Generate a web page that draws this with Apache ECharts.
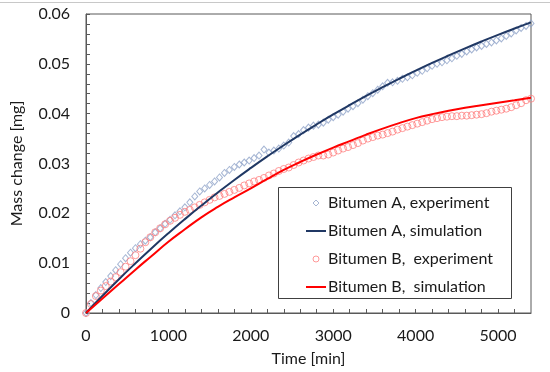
<!DOCTYPE html>
<html><head><meta charset="utf-8">
<script src="https://cdn.jsdelivr.net/npm/echarts@6/dist/echarts.min.js"></script>
<style>html,body{margin:0;padding:0;background:#fff}#c{width:550px;height:372px}</style>
</head><body><div id="c"></div>
<script>
var expTime = [0,60,120,180,240,300,360,420,480,540,600,660,720,780,840,900,960,1020,1080,1140,1200,1260,1320,1380,1440,1500,1560,1620,1680,1740,1800,1860,1920,1980,2040,2100,2160,2220,2280,2340,2400,2460,2520,2580,2640,2700,2760,2820,2880,2940,3000,3060,3120,3180,3240,3300,3360,3420,3480,3540,3600,3660,3720,3780,3840,3900,3960,4020,4080,4140,4200,4260,4320,4380,4440,4500,4560,4620,4680,4740,4800,4860,4920,4980,5040,5100,5160,5220,5280,5340,5400];
var expA = [0,0.0020,0.0036,0.0050,0.0062,0.0074,0.0086,0.0098,0.0110,0.0121,0.0130,0.0138,0.0145,0.0152,0.0162,0.0170,0.0179,0.0187,0.0196,0.0204,0.0212,0.0222,0.0234,0.0244,0.0250,0.0257,0.0264,0.0272,0.0281,0.0287,0.0293,0.0298,0.0302,0.0306,0.0311,0.0316,0.0328,0.0322,0.0326,0.0330,0.0336,0.0342,0.0355,0.0359,0.0367,0.0372,0.0376,0.0378,0.0382,0.0388,0.0393,0.0398,0.0404,0.0410,0.0415,0.0421,0.0428,0.0435,0.0441,0.0448,0.0455,0.0462,0.0463,0.0466,0.0470,0.0473,0.0477,0.0482,0.0486,0.0491,0.0496,0.0500,0.0503,0.0507,0.0511,0.0516,0.0520,0.0525,0.0529,0.0533,0.0536,0.0540,0.0543,0.0547,0.0551,0.0556,0.0561,0.0567,0.0572,0.0576,0.0581];
var expB = [0,0.0018,0.0034,0.0045,0.0054,0.0063,0.0072,0.0082,0.0093,0.0104,0.0116,0.0129,0.0142,0.0152,0.0162,0.0170,0.0178,0.0185,0.0191,0.0197,0.0203,0.0207,0.0212,0.0217,0.0222,0.0227,0.0232,0.0235,0.0239,0.0243,0.0247,0.0251,0.0256,0.0260,0.0264,0.0267,0.0271,0.0276,0.0280,0.0285,0.0289,0.0292,0.0297,0.0302,0.0306,0.0310,0.0313,0.0316,0.0316,0.0318,0.0322,0.0326,0.0330,0.0333,0.0337,0.0341,0.0346,0.0350,0.0353,0.0356,0.0358,0.0361,0.0364,0.0368,0.0371,0.0374,0.0377,0.0380,0.0383,0.0386,0.0389,0.0391,0.0393,0.0394,0.0395,0.0395,0.0396,0.0396,0.0397,0.0398,0.0399,0.0401,0.0404,0.0406,0.0408,0.0410,0.0413,0.0417,0.0421,0.0427,0.0430];
var simTime = [0,200,400,600,800,1000,1200,1400,1600,1800,2000,2200,2400,2600,2800,3000,3200,3400,3600,3800,4000,4200,4400,4600,4800,5000,5200,5400];
var simA = [0,0.00346,0.00679,0.00998,0.01306,0.01601,0.01884,0.02156,0.02418,0.02670,0.02911,0.03143,0.03366,0.03580,0.03786,0.03984,0.04174,0.04357,0.04532,0.04700,0.04862,0.05018,0.05167,0.05311,0.05449,0.05582,0.05709,0.05831];
var simB = [0,0.0029,0.0058,0.0087,0.0115,0.0143,0.0168,0.0192,0.0213,0.0232,0.0250,0.0269,0.0287,0.0303,0.0318,0.0332,0.0345,0.0358,0.0370,0.0381,0.0391,0.0399,0.0406,0.0412,0.0417,0.0422,0.0427,0.0432];
var seriesNames = ['Bitumen A, experiment','Bitumen A, simulation','Bitumen B,  experiment','Bitumen B,  simulation'];
var xTitle = 'Time [min]';
var yTitle = 'Mass change [mg]';

function pairs(xs, ys){ return xs.map(function(x,i){ return [x, ys[i]]; }); }
var FONT = 'Lato';
var TXT = '#1a1a1a';
var C_EXPA = '#8EA3C8', C_SIMA = '#203864', C_EXPB = '#FF7F7F', C_SIMB = '#FF0000';
var chart = echarts.init(document.getElementById('c'), null, {renderer:'canvas'});
chart.setOption({
  animation:false,
  textStyle:{fontFamily:FONT},
  grid:{left:86, right:19, top:14, bottom:59, show:true, borderColor:'#595959', borderWidth:1},
  xAxis:{
    type:'value', min:0, max:5400, interval:200,
    name:xTitle, nameLocation:'middle', nameGap:38,
    nameTextStyle:{fontFamily:FONT, fontSize:16, color:TXT},
    axisLine:{show:true, lineStyle:{color:'#595959', width:1}},
    axisTick:{show:true, inside:true, length:4, lineStyle:{color:'#595959'}},
    axisLabel:{fontFamily:FONT, fontSize:16, color:TXT, margin:15, showMaxLabel:false,
      formatter:function(v){ return (Math.round(v) % 1000 === 0) ? String(Math.round(v)) : ''; }},
    splitLine:{show:false}
  },
  yAxis:{
    type:'value', min:0, max:0.06, interval:0.002,
    name:yTitle, nameLocation:'middle', nameGap:61,
    nameTextStyle:{fontFamily:FONT, fontSize:16, color:TXT},
    axisLine:{show:true, lineStyle:{color:'#595959', width:1}},
    axisTick:{show:true, inside:true, length:4, lineStyle:{color:'#595959'}},
    axisLabel:{fontFamily:FONT, fontSize:16, color:TXT, margin:16,
      formatter:function(v){ var k=Math.round(v*1000); if (k % 10 !== 0) return ''; return k===0 ? '0' : (k/1000).toFixed(2); }},
    splitLine:{show:false}
  },
  legend:{
    left:300, top:190, orient:'vertical', itemWidth:20, itemHeight:6, itemGap:12,
    symbolKeepAspect:true,
    textStyle:{fontFamily:FONT, fontSize:16, color:TXT, padding:[0,0,0,-3]},
    data:[
      {name:seriesNames[0], icon:'path://M0,-1L1,0L0,1L-1,0Z', itemStyle:{color:'rgba(0,0,0,0)', borderColor:C_EXPA, borderWidth:1}},
      {name:seriesNames[1], itemStyle:{opacity:0}},
      {name:seriesNames[2], icon:'circle', itemStyle:{color:'rgba(0,0,0,0)', borderColor:C_EXPB, borderWidth:1}},
      {name:seriesNames[3], itemStyle:{opacity:0}}
    ]
  },
  graphic:[
    {type:'line', shape:{x1:0,y1:2.5,x2:550,y2:2.5}, style:{stroke:'#c8c8c8', lineWidth:1}, silent:true},
    {type:'rect', shape:{x:278.5,y:187.5,width:233,height:111}, style:{fill:'#fff', stroke:'#404040', lineWidth:1}, z:-1, zlevel:0}
  ],
  series:[
    {name:seriesNames[0], type:'scatter', data:pairs(expTime, expA), symbol:'diamond', symbolSize:[6,7],
     itemStyle:{color:'rgba(0,0,0,0)', borderColor:C_EXPA, borderWidth:1}, z:2},
    {name:seriesNames[1], type:'line', data:pairs(simTime, simA), smooth:true, symbol:'none',
     lineStyle:{color:C_SIMA, width:2}, itemStyle:{color:C_SIMA}, z:3},
    {name:seriesNames[2], type:'scatter', data:pairs(expTime, expB), symbol:'circle', symbolSize:7,
     itemStyle:{color:'rgba(0,0,0,0)', borderColor:C_EXPB, borderWidth:1}, z:2},
    {name:seriesNames[3], type:'line', data:pairs(simTime, simB), smooth:true, symbol:'none',
     lineStyle:{color:C_SIMB, width:2}, itemStyle:{color:C_SIMB}, z:3}
  ]
});
</script></body></html>
